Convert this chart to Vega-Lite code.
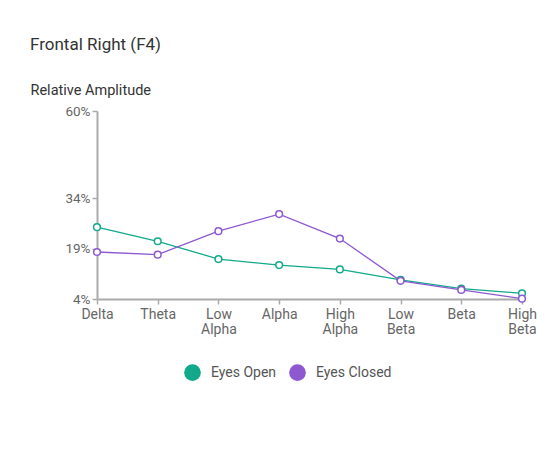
{
  "$schema": "https://vega.github.io/schema/vega-lite/v6.json",
  "width": 425,
  "height": 188,
  "autosize": {"type": "none"},
  "padding": {"left": 97, "top": 111, "right": 31, "bottom": 152},
  "background": "#ffffff",
  "title": {
    "text": "Frontal Right (F4)",
    "anchor": "start",
    "frame": "group",
    "dx": -67,
    "offset": 28,
    "font": "Roboto",
    "fontSize": 17,
    "fontWeight": "normal",
    "color": "#333333"
  },
  "data": {
    "values": [
      {"band": "Delta", "series": "Eyes Open", "value": 25.4},
      {"band": "Theta", "series": "Eyes Open", "value": 21.2},
      {"band": "Low Alpha", "series": "Eyes Open", "value": 15.9},
      {"band": "Alpha", "series": "Eyes Open", "value": 14.1},
      {"band": "High Alpha", "series": "Eyes Open", "value": 12.8},
      {"band": "Low Beta", "series": "Eyes Open", "value": 9.7},
      {"band": "Beta", "series": "Eyes Open", "value": 7.1},
      {"band": "High Beta", "series": "Eyes Open", "value": 5.7},
      {"band": "Delta", "series": "Eyes Closed", "value": 18.0},
      {"band": "Theta", "series": "Eyes Closed", "value": 17.2},
      {"band": "Low Alpha", "series": "Eyes Closed", "value": 24.2},
      {"band": "Alpha", "series": "Eyes Closed", "value": 29.3},
      {"band": "High Alpha", "series": "Eyes Closed", "value": 22.0},
      {"band": "Low Beta", "series": "Eyes Closed", "value": 9.4},
      {"band": "Beta", "series": "Eyes Closed", "value": 6.7},
      {"band": "High Beta", "series": "Eyes Closed", "value": 4.1}
    ]
  },
  "encoding": {
    "x": {
      "field": "band",
      "type": "ordinal",
      "sort": ["Delta", "Theta", "Low Alpha", "Alpha", "High Alpha", "Low Beta", "Beta", "High Beta"],
      "scale": {"type": "point", "padding": 0},
      "axis": {
        "title": null,
        "labelAngle": 0,
        "labelExpr": "split(datum.label, ' ')",
        "labelFont": "Roboto",
        "labelFontSize": 14,
        "labelColor": "#666666",
        "labelLineHeight": 15,
        "labelPadding": 3,
        "labelBaseline": "top",
        "domainColor": "#aaaaaa",
        "domainWidth": 2,
        "tickColor": "#aaaaaa",
        "tickSize": 5,
        "tickWidth": 1.5
      }
    },
    "y": {
      "field": "value",
      "type": "quantitative",
      "scale": {"domain": [4, 60], "nice": false, "zero": false},
      "axis": {
        "title": "Relative Amplitude",
        "titleAngle": 0,
        "titleAlign": "left",
        "titleBaseline": "alphabetic",
        "titleX": -67,
        "titleY": -17,
        "titleFont": "Roboto",
        "titleFontSize": 14.5,
        "titleFontWeight": "normal",
        "titleColor": "#333333",
        "values": [4, 19, 34, 60],
        "labelExpr": "datum.value + '%'",
        "labelFont": "Roboto",
        "labelFontSize": 13.5,
        "labelColor": "#666666",
        "labelPadding": 2,
        "grid": false,
        "domainColor": "#aaaaaa",
        "domainWidth": 2,
        "tickColor": "#aaaaaa",
        "tickSize": 5,
        "tickWidth": 1.5
      }
    },
    "color": {
      "field": "series",
      "type": "nominal",
      "sort": ["Eyes Open", "Eyes Closed"],
      "scale": {"domain": ["Eyes Open", "Eyes Closed"], "range": ["#12a98a", "#8d58d0"]},
      "legend": {
        "title": null,
        "orient": "none",
        "direction": "horizontal",
        "legendX": 87,
        "legendY": 253,
        "symbolType": "circle",
        "symbolSize": 280,
        "symbolStrokeWidth": 0,
        "symbolOpacity": 1,
        "labelFont": "Roboto",
        "labelFontSize": 14,
        "labelColor": "#555555",
        "labelOffset": 10,
        "columnPadding": 12
      }
    }
  },
  "layer": [
    {"mark": {"type": "line", "strokeWidth": 1.3}},
    {"mark": {"type": "point", "filled": true, "fill": "#ffffff", "strokeWidth": 1.5, "size": 45, "opacity": 1}, "encoding": {"stroke": {"field": "series", "type": "nominal", "scale": {"domain": ["Eyes Open", "Eyes Closed"], "range": ["#12a98a", "#8d58d0"]}, "legend": null}}}
  ],
  "config": {"view": {"stroke": null}}
}
